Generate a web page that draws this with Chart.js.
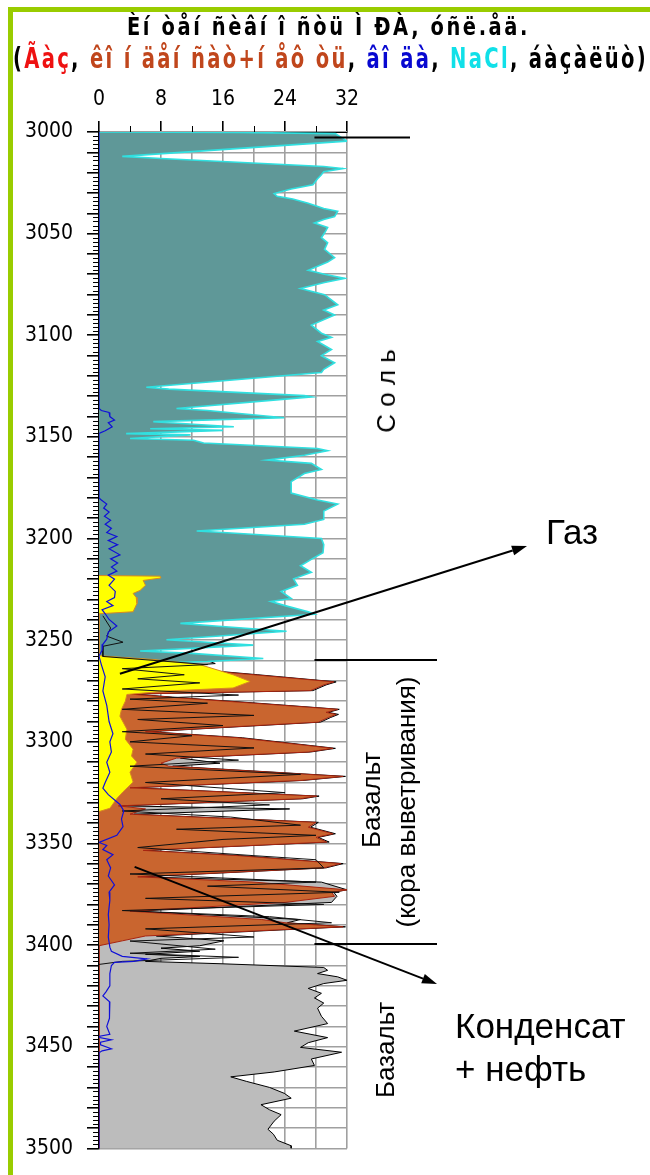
<!DOCTYPE html>
<html lang="ru">
<head>
  <meta charset="UTF-8">
  <title>Интенсивность МРА</title>
  <script src="https://cdn.jsdelivr.net/npm/chart.js"></script>
  <style>
    body {
      margin: 0;
      width: 650px;
      height: 1175px;
      overflow: hidden;
      background: #fff;
      position: relative;
      font-family: 'Liberation Sans', Arial, sans-serif;
    }
    #frame {
      position: absolute;
      left: 8px; top: 7px; right: 0; bottom: 0;
      border-left: 5px solid #99cc00;
      border-top: 5px solid #99cc00;
    }
    canvas { position: absolute; left: 0; top: 0; }
    .title {
      position: absolute;
      white-space: nowrap;
      font-family: 'Liberation Sans Narrow', 'DejaVu Sans Condensed', sans-serif;
      font-weight: bold;
      letter-spacing: 3px;
      line-height: 1;
      transform-origin: 0 0;
    }
    #t1 { left: 127px; top: 14px; font-size: 25px; }
    #t2 { left: 13px; top: 45px; font-size: 28px; }
    .note { position: absolute; white-space: nowrap; font-size: 35px; line-height: 1; }
    .rot {
      position: absolute;
      white-space: nowrap;
      font-size: 26px;
      line-height: 1;
      transform: translate(-50%, -50%) rotate(-90deg);
    }
  </style>
</head>
<body>
  <div id="frame"></div>
  <canvas id="logChart" width="650" height="1175"></canvas>

  <div class="title" id="t1">Èí òåí ñèâí î ñòü Ì ÐÀ, óñë.åä.</div>
  <div class="title" id="t2">(<span style="color:#ee1111">Ãàç</span>, <span style="color:#c0461c">êî í äåí ñàò+í åô òü</span>, <span style="color:#0808d0">âî äà</span>, <span style="color:#10e0e8">NaCl</span>, áàçàëüò)</div>

  <div class="rot" style="left:386px; top:391px;">С о л ь</div>
  <div class="rot" style="left:371px; top:800px;">Базальт</div>
  <div class="rot" style="left:406px; top:802px;">(кора выветривания)</div>
  <div class="rot" style="left:385px; top:1050px;">Базальт</div>

  <div class="note" style="left:546px; top:514px;">Газ</div>
  <div class="note" style="left:455px; top:1008px;">Конденсат</div>
  <div class="note" style="left:455px; top:1051px;">+ нефть</div>

  <script>
    // depth (m) / intensity pairs
    const saltDepth = [3000, 3000.2, 3000.8, 3002, 3004.5, 3012, 3013, 3017, 3018, 3019.5,
      3021, 3023, 3026, 3028, 3030.3, 3031.6, 3033, 3035, 3037.6, 3039,
      3041.6, 3043, 3044.8, 3047, 3049.7, 3052, 3054.5, 3057.7, 3061.8, 3064,
      3068, 3070, 3072, 3074, 3077, 3080, 3085, 3087.6, 3090, 3095,
      3099, 3101, 3103, 3107, 3110, 3113.5, 3116.7, 3118.3, 3125.6, 3126.5,
      3129.7, 3130.3, 3136, 3137, 3140.6, 3142.5, 3145, 3146, 3146.8, 3148.4,
      3149, 3150.8, 3151.6, 3153, 3155.7, 3156.8, 3159, 3161.4, 3163, 3166,
      3168, 3172, 3177.6, 3181, 3183, 3186.5, 3190.6, 3193, 3196.3, 3197,
      3200, 3203, 3207, 3210, 3213.4, 3216.6, 3219.8, 3223, 3226, 3229.5,
      3231, 3233, 3236, 3237.2, 3241.7, 3243, 3245.6, 3249.8, 3251, 3252.4,
      3255.3, 3256.5, 3259, 3260.5, 3262];
    const saltVal = [0, 18, 30.5, 31, 32, 3, 8, 29, 31.5, 29,
      28.7, 28.2, 27.6, 24.8, 22.6, 23, 25, 27, 29, 30.8,
      30.4, 29, 27.8, 29.5, 29.1, 28.7, 29.5, 29.1, 30.4, 29.5,
      27, 29.1, 31.7, 29.1, 26, 29.1, 30.8, 29, 30.4, 27.4,
      28.7, 30, 28.2, 30, 28.7, 30.4, 29, 28.7, 6.1, 9,
      26.5, 27.4, 10, 14, 23.9, 7, 17.4, 6.6, 16, 3.5,
      11.8, 4, 12.2, 13.5, 28.2, 29.5, 26.5, 21.7, 27.4, 28.7,
      26.5, 24.8, 24.8, 28.2, 30.8, 29, 29, 26.5, 12.6, 16,
      28.7, 29, 28.9, 27.5, 26, 27.4, 25.1, 25.6, 23.5, 24.8,
      22.2, 24, 27, 27.8, 10.5, 15, 24.2, 8.7, 14, 19.9,
      5.3, 12, 21.2, 14, 0];

    const gasDepth = [3218.2, 3218.5, 3219.4, 3220.6, 3223, 3225.5, 3227, 3229, 3231.9, 3236,
      3237, 3257.6, 3258.2, 3259.5, 3262, 3267, 3270.3, 3273.5, 3275, 3276.7,
      3280, 3284, 3287.4, 3293.8, 3298.7, 3303.6, 3307, 3310, 3314.9, 3319.8,
      3324.6, 3327.9, 3332.7, 3334.3];
    const gasVal = [0, 7.9, 8, 5.7, 6, 5.3, 4.4, 4.8, 4.9, 4.4,
      0, 0, 2, 7, 13, 17.3, 19.5, 17.3, 8.7, 3.6,
      3.4, 2.9, 2.7, 3.6, 3.4, 4.4, 4.2, 4.9, 4, 4.4,
      3.1, 2.3, 1.4, 0];

    const oilDepth = [3258, 3261, 3262.5, 3264, 3267, 3270.5, 3272, 3274.8, 3276.5, 3278,
      3281, 3284, 3285.5, 3286.5, 3288, 3290.3, 3295, 3298, 3303.2, 3305,
      3308, 3310.5, 3312, 3317, 3319, 3322.6, 3326.7, 3328, 3331.5, 3333,
      3335.6, 3339.6, 3342, 3345.2, 3347, 3349.3, 3353.4, 3356, 3359.9, 3362,
      3366.4, 3369, 3372.8, 3374, 3376, 3379, 3383.3, 3387.4, 3389, 3391,
      3395.5, 3397.9, 3400.3, 3500];
    const oilVal = [0, 3, 8, 11, 20, 30.3, 29, 27.3, 4, 9,
      20, 30.8, 29.3, 30.6, 29.6, 28.3, 6, 18, 30.2, 27,
      10, 8, 9, 31.5, 26, 4, 28.1, 26, 2.5, 6,
      4, 28, 27, 30.2, 28, 29.4, 5.7, 18, 31.2, 29,
      5, 20, 32, 30, 30.4, 24, 4, 21, 24, 31.5,
      6, 3, 0, 0];

    const basaltDepth = [3257.5, 3258, 3260, 3261.5, 3263, 3264, 3267, 3270.5, 3272, 3274.8,
      3276.5, 3278, 3281, 3284, 3285.5, 3286.5, 3288, 3290.3, 3295, 3298,
      3303.2, 3305, 3308, 3310.5, 3312, 3317, 3319, 3322.6, 3326.7, 3328,
      3331.5, 3333, 3335.6, 3339.6, 3342, 3345.2, 3347, 3349.3, 3353.4, 3356,
      3359.9, 3362, 3366.4, 3369, 3372.8, 3374, 3376, 3379, 3383.3, 3387.4,
      3389, 3391, 3395.5, 3397.9, 3400.3, 3401.5, 3403, 3404.5, 3405.6, 3406.5,
      3408, 3409.2, 3411, 3412.4, 3414, 3415.6, 3417.3, 3418.9, 3421.3, 3423.7,
      3426, 3428.5, 3431, 3435, 3438.6, 3442.3, 3445.5, 3448, 3450.3, 3452.7,
      3456, 3459.2, 3462.4, 3464.8, 3467, 3470, 3472.9, 3475.3, 3478.5, 3481,
      3483.4, 3486.6, 3490.6, 3493, 3496, 3498.7, 3500];
    const basaltVal = [0, 8, 14, 15, 10, 11.5, 20.5, 30.6, 29.3, 27.6,
      4.5, 9.5, 20.5, 31, 29.6, 30.9, 29.9, 28.6, 6.5, 18.5,
      30.5, 27.3, 10.5, 15.6, 9.5, 31.8, 26.3, 4.5, 28.4, 26.3,
      3, 24.6, 4.5, 28.3, 27.3, 30.5, 28.3, 29.7, 6, 18.3,
      31.5, 29.3, 5.5, 28.7, 32, 30.3, 30.7, 30, 4.5, 26,
      24.3, 31.8, 7.4, 16.1, 13, 8, 13, 6, 13, 8,
      6, 16, 29, 29.5, 28.2, 30.8, 32, 29, 27, 28.7,
      27.8, 29, 28.2, 28.7, 29.5, 25.2, 29.5, 27, 26, 31.3,
      27.4, 27.8, 22.6, 17, 19, 22, 23.9, 24.8, 20.9, 22,
      23.5, 22.6, 21.8, 22.5, 23, 24.8, 24.8];

    const waterDepth = [3000, 3136, 3137, 3138, 3140, 3141.7, 3143, 3145, 3147, 3148.3,
      3180, 3181, 3183, 3185, 3187, 3189, 3191, 3193, 3195, 3197,
      3199, 3201, 3203, 3205, 3208, 3210, 3212, 3214, 3216, 3218,
      3220, 3223, 3226, 3229, 3231, 3233, 3235, 3237, 3239.8, 3243,
      3246, 3249.5, 3252, 3255, 3257.8, 3262, 3268, 3275, 3282, 3290,
      3296, 3300, 3305, 3310, 3315, 3320, 3322.8, 3326, 3330.8, 3334,
      3338, 3341.7, 3346, 3349.5, 3351, 3353, 3355.5, 3358, 3362, 3366,
      3370.4, 3374, 3378, 3385, 3390, 3396, 3401, 3403, 3405.5, 3406.8,
      3408, 3408.5, 3410, 3414, 3420, 3423, 3425, 3428, 3432, 3436,
      3440, 3443.9, 3444.8, 3445.5, 3446.6, 3447.8, 3449, 3451, 3452, 3453,
      3500];
    const waterVal = [0, 0, 0.3, 1.3, 1.4, 2, 1.2, 1.7, 0.8, 0,
      0, 0.3, 1, 0.6, 1.3, 0.7, 1.5, 0.8, 1.6, 1,
      2.3, 1.2, 2.4, 1.3, 2.7, 1.5, 2.4, 1.6, 2.3, 1.2,
      2, 1.3, 2.1, 2, 1, 1.8, 0.4, 0.8, 1.3, 2.3,
      1.2, 1, 0.5, 0.4, 0, 0.3, 0.8, 0.5, 1, 1.3,
      1.8, 1.4, 1.6, 1, 1.4, 0.8, 0.5, 1.2, 2.7, 3.2,
      2.9, 3.1, 2.3, 0, 1, 0.5, 1.8, 1, 1.5, 1.2,
      2, 1.3, 1.4, 1.2, 1.3, 1.2, 1.4, 1.6, 3, 6.2,
      4.5, 2, 1.6, 1.4, 1.4, 0.9, 0.5, 1.4, 1.3, 1.4,
      1, 1.4, 0.1, 0.1, 1.6, 0.2, 0.2, 1.6, 0.4, 0,
      0];

    // thin black trace running through the weathered basalt
    const traceDepth = [3238, 3244, 3248, 3251, 3253, 3258, 3262, 3264, 3267, 3269,
      3271, 3274, 3277, 3279, 3281, 3284, 3287, 3289, 3292, 3295,
      3297, 3300, 3303, 3306, 3309, 3312, 3316, 3320, 3325, 3328,
      3331, 3334, 3337, 3341, 3343, 3346, 3348, 3352, 3356, 3358,
      3362, 3365, 3369, 3371, 3374, 3377, 3380, 3383, 3386, 3389,
      3392, 3396, 3398, 3402, 3404, 3406, 3408, 3409.5];
    const traceVal = [0.5, 1.5, 1, 3.1, 0.5, 0.5, 14, 3, 11, 5,
      13, 3, 18, 4, 14, 3, 20, 5, 16, 3,
      12, 4, 20, 6, 18, 4, 26, 6, 24, 8,
      22, 3, 17, 26, 10, 28, 16, 5, 20, 28,
      29, 4, 28, 14, 31, 6, 29, 3, 22, 30,
      6, 20, 4, 15, 4, 18, 3, 0];

    // zone boundaries on the right
    const zoneDepths = [3002.7, 3259.7, 3399.4];

    function pts(depths, vals) {
      return depths.map((d, i) => ({ x: vals[i], y: d }));
    }

    const decor = {
      id: 'decor',
      afterDraw(chart) {
        const { ctx, scales: { x, y } } = chart;
        ctx.save();
        // minor ticks
        ctx.strokeStyle = '#000';
        ctx.lineWidth = 1;
        ctx.beginPath();
        for (let d = 3002; d < 3500; d += 2) {
          if (d % 10 === 0) continue;
          const py = Math.round(y.getPixelForValue(d)) + 0.5;
          ctx.moveTo(x.left - 6, py);
          ctx.lineTo(x.left, py);
        }
        for (let v = 4; v < 32; v += 8) {
          const px = Math.round(x.getPixelForValue(v)) + 0.5;
          ctx.moveTo(px, y.top - 6);
          ctx.lineTo(px, y.top);
        }
        ctx.stroke();

        // zone boundaries
        const ends = [410, 437, 437];
        ctx.lineWidth = 2;
        ctx.beginPath();
        zoneDepths.forEach((d, i) => {
          const py = y.getPixelForValue(d);
          ctx.moveTo(x.getPixelForValue(27.8), py);
          ctx.lineTo(ends[i], py);
        });
        ctx.stroke();

        // arrows to the labels
        arrow(ctx, x.getPixelForValue(2.7), y.getPixelForValue(3266.5), 527, 546);
        arrow(ctx, x.getPixelForValue(4.6), y.getPixelForValue(3361.5), 437, 984);
        ctx.restore();
      }
    };

    function arrow(ctx, x0, y0, x1, y1) {
      const a = Math.atan2(y1 - y0, x1 - x0);
      const len = 15, w = 5;
      ctx.beginPath();
      ctx.moveTo(x0, y0);
      ctx.lineTo(x1 - Math.cos(a) * len, y1 - Math.sin(a) * len);
      ctx.stroke();
      ctx.beginPath();
      ctx.moveTo(x1, y1);
      ctx.lineTo(x1 - Math.cos(a) * len - Math.sin(a) * w, y1 - Math.sin(a) * len + Math.cos(a) * w);
      ctx.lineTo(x1 - Math.cos(a) * len + Math.sin(a) * w, y1 - Math.sin(a) * len - Math.cos(a) * w);
      ctx.closePath();
      ctx.fillStyle = '#000';
      ctx.fill();
    }

    const tickFont = { family: "'DejaVu Sans Condensed', 'DejaVu Sans', sans-serif", size: 21 };

    new Chart(document.getElementById('logChart'), {
      type: 'line',
      data: {
        datasets: [
          { label: 'вода', data: pts(waterDepth, waterVal), borderColor: '#1010d8', borderWidth: 1.2, fill: false },
          { label: 'trace', data: pts(traceDepth, traceVal), borderColor: '#111', borderWidth: 1, fill: false },
          { label: 'газ', data: pts(gasDepth, gasVal), borderColor: '#d88a20', borderWidth: 1, backgroundColor: '#ffff00', fill: 'origin' },
          { label: 'конденсат+нефть', data: pts(oilDepth, oilVal), borderColor: '#a82410', borderWidth: 1, backgroundColor: '#c9652f', fill: 'origin' },
          { label: 'NaCl', data: pts(saltDepth, saltVal), borderColor: '#30e0e0', borderWidth: 1.6, backgroundColor: '#5f9898', fill: 'origin' },
          { label: 'базальт', data: pts(basaltDepth, basaltVal), borderColor: '#000', borderWidth: 1, backgroundColor: '#bcbcbc', fill: 'origin' }
        ]
      },
      options: {
        indexAxis: 'y',
        responsive: false,
        animation: false,
        devicePixelRatio: 1,
        layout: { padding: { left: 0, top: 80, right: 303, bottom: 13 } },
        elements: { point: { radius: 0 }, line: { tension: 0 } },
        plugins: { legend: { display: false }, tooltip: { enabled: false } },
        scales: {
          x: {
            type: 'linear',
            position: 'top',
            min: 0,
            max: 32,
            afterFit: s => { s.height = 52; },
            border: { color: '#000', width: 1 },
            grid: {
              color: '#a0a0a0',
              lineWidth: 1.6,
              tickLength: 11,
              tickColor: c => (c.tick && c.tick.value % 8 === 0) ? '#000' : 'rgba(0,0,0,0)'
            },
            ticks: {
              stepSize: 4,
              autoSkip: false,
              maxRotation: 0,
              padding: 9,
              color: '#000',
              font: tickFont,
              callback: v => v % 8 === 0 ? v : ''
            }
          },
          y: {
            type: 'linear',
            reverse: true,
            min: 3000,
            max: 3500,
            afterFit: s => { s.width = 99; },
            border: { color: '#000', width: 1.5 },
            grid: {
              color: '#a0a0a0',
              lineWidth: 1.6,
              tickLength: 12,
              tickColor: '#000'
            },
            ticks: {
              stepSize: 10,
              autoSkip: false,
              padding: 14,
              color: '#000',
              font: tickFont,
              callback: v => v % 50 === 0 ? v : ''
            }
          }
        }
      },
      plugins: [decor]
    });

    // stretch the title lines to the width they take in the original
    function fitTitle(id, width) {
      const el = document.getElementById(id);
      el.style.transform = 'none';
      const w = el.getBoundingClientRect().width;
      el.style.transform = 'scaleX(' + (width / w) + ')';
    }
    fitTitle('t1', 403);
    fitTitle('t2', 635);
    document.fonts.ready.then(() => { fitTitle('t1', 403); fitTitle('t2', 635); });
  </script>
</body>
</html>
